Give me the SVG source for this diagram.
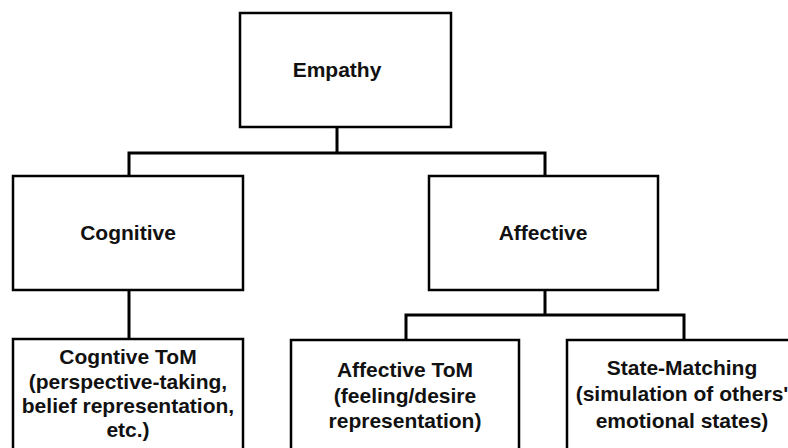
<svg xmlns="http://www.w3.org/2000/svg" width="788" height="448" viewBox="0 0 788 448">
<style>
.box{fill:#fff;stroke:#000;stroke-width:2.5}
.ln{fill:none;stroke:#000;stroke-width:3}
text{font-family:"Liberation Sans",Arial,sans-serif;font-weight:700;font-size:21px;fill:#111;text-anchor:middle}
</style>
<rect width="788" height="448" fill="#fff"/>
<g id="connectors">
<path class="ln" d="M337 127V153M129 176V153H545V176"/>
<path class="ln" d="M129 290V339"/>
<path class="ln" d="M545 290V315M406 340V315H684V340"/>
</g>
<g id="empathy"><rect class="box" x="240" y="13" width="211" height="114"/><text x="337" y="77">Empathy</text></g>
<g id="cognitive"><rect class="box" x="13" y="176" width="230" height="114"/><text x="128" y="240">Cognitive</text></g>
<g id="affective"><rect class="box" x="429" y="176" width="229" height="114"/><text x="543" y="240">Affective</text></g>
<g id="cognitive-tom"><rect class="box" x="13" y="339" width="230" height="120"/>
<text x="128" y="364">Cogntive ToM</text><text x="128" y="389">(perspective-taking,</text><text x="128" y="413">belief representation,</text><text x="128" y="437">etc.)</text></g>
<g id="affective-tom"><rect class="box" x="291" y="340" width="228" height="120"/>
<text x="405" y="377">Affective ToM</text><text x="405" y="403">(feeling/desire</text><text x="405" y="428">representation)</text></g>
<g id="state-matching"><rect class="box" x="567" y="340" width="229" height="120"/>
<text x="682" y="375">State-Matching</text><text x="682" y="401">(simulation of others'</text><text x="682" y="428">emotional states)</text></g>
</svg>
